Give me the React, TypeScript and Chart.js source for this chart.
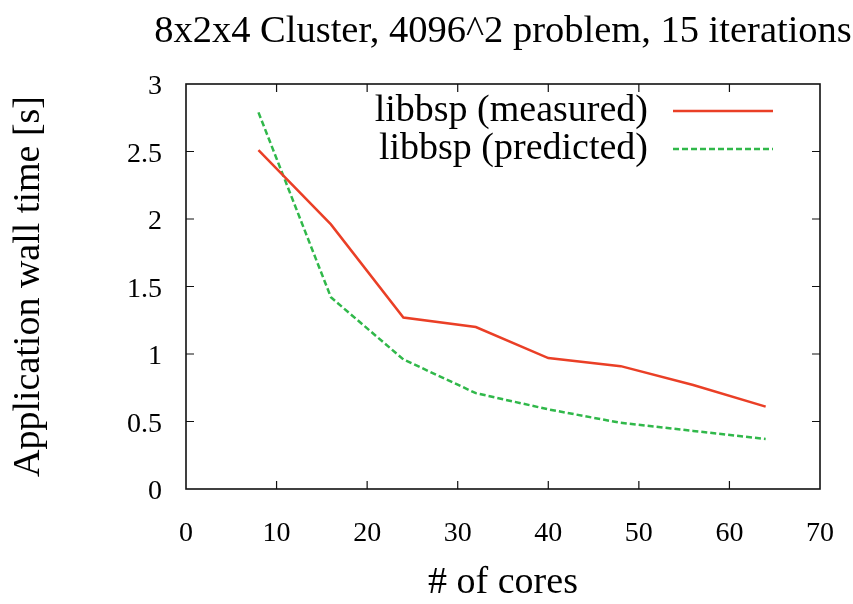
import React, { useEffect, useRef } from "react";
import { Chart, registerables } from "chart.js";

Chart.register(...registerables);

// Core counts on the x axis
const cores = [8, 16, 24, 32, 40, 48, 56, 64];
// Wall time in seconds
const measured = [2.51, 1.96, 1.27, 1.2, 0.97, 0.91, 0.77, 0.61];
const predicted = [2.79, 1.42, 0.96, 0.71, 0.59, 0.49, 0.43, 0.37];

const seriesLabels = ["libbsp (measured)", "libbsp (predicted)"];
const chartTitle = "8x2x4 Cluster, 4096^2 problem, 15 iterations";
const xTitle = "# of cores";
const yTitle = "Application wall time [s]";

const FONT = '"Liberation Serif", "DejaVu Serif", "Times New Roman", serif';
const RED = "#ea3f26";
const GREEN = "#30b84a";

// Gnuplot-style frame: full border with inward ticks on every side
const framePlugin = {
  id: "frame",
  beforeDatasetsDraw(chart: any) {
    const { ctx, chartArea: a, scales } = chart;
    const len = 8;
    ctx.save();
    ctx.strokeStyle = "#111";
    ctx.lineWidth = 1.6;
    ctx.strokeRect(a.left, a.top, a.right - a.left, a.bottom - a.top);
    ctx.lineWidth = 1.2;
    ctx.beginPath();
    scales.x.ticks.forEach((t: any) => {
      const px = scales.x.getPixelForValue(t.value);
      if (px <= a.left + 1 || px >= a.right - 1) return;
      ctx.moveTo(px, a.bottom);
      ctx.lineTo(px, a.bottom - len);
      ctx.moveTo(px, a.top);
      ctx.lineTo(px, a.top + len);
    });
    scales.y.ticks.forEach((t: any) => {
      const py = scales.y.getPixelForValue(t.value);
      if (py <= a.top + 1 || py >= a.bottom - 1) return;
      ctx.moveTo(a.left, py);
      ctx.lineTo(a.left + len, py);
      ctx.moveTo(a.right, py);
      ctx.lineTo(a.right - len, py);
    });
    ctx.stroke();
    ctx.restore();
  },
};

// Title above the plot and the key in the upper right corner
const textPlugin = {
  id: "texts",
  afterDraw(chart: any) {
    const { ctx, chartArea: a } = chart;
    ctx.save();
    ctx.fillStyle = "#000";
    ctx.font = `38.5px ${FONT}`;
    ctx.textAlign = "center";
    ctx.textBaseline = "middle";
    ctx.fillText(chartTitle, (a.left + a.right) / 2, 32);

    const rows = [
      { label: seriesLabels[0], color: RED, dash: [] as number[], y: a.top + 27 },
      { label: seriesLabels[1], color: GREEN, dash: [6, 3], y: a.top + 65 },
    ];
    ctx.font = `38px ${FONT}`;
    ctx.textAlign = "right";
    rows.forEach((r) => {
      ctx.fillStyle = "#000";
      ctx.fillText(r.label, a.right - 172, r.y);
      ctx.strokeStyle = r.color;
      ctx.lineWidth = 2.5;
      ctx.setLineDash(r.dash);
      ctx.beginPath();
      ctx.moveTo(a.right - 147, r.y);
      ctx.lineTo(a.right - 47, r.y);
      ctx.stroke();
    });
    ctx.restore();
  },
};

export default function App() {
  const ref = useRef<HTMLCanvasElement>(null);

  useEffect(() => {
    if (!ref.current) return;
    const chart = new Chart(ref.current, {
      type: "line",
      data: {
        datasets: [
          {
            label: seriesLabels[0],
            data: cores.map((c, i) => ({ x: c, y: measured[i] })),
            borderColor: RED,
            borderWidth: 2.5,
            pointRadius: 0,
            tension: 0,
            fill: false,
          },
          {
            label: seriesLabels[1],
            data: cores.map((c, i) => ({ x: c, y: predicted[i] })),
            borderColor: GREEN,
            borderWidth: 2.5,
            borderDash: [6, 3],
            pointRadius: 0,
            tension: 0,
            fill: false,
          },
        ],
      },
      options: {
        responsive: false,
        animation: false,
        layout: { padding: { top: 84, right: 33, left: 0, bottom: 0 } },
        plugins: {
          legend: { display: false },
          tooltip: { enabled: false },
          title: { display: false },
        },
        scales: {
          x: {
            type: "linear",
            min: 0,
            max: 70,
            grid: { display: false, drawTicks: false },
            border: { display: false },
            ticks: {
              stepSize: 10,
              padding: 28,
              color: "#000",
              font: { family: FONT, size: 28 },
            },
            title: {
              display: true,
              text: xTitle,
              color: "#000",
              font: { family: FONT, size: 38, lineHeight: 1.1 },
              padding: { top: 0, bottom: 0 },
            },
            afterFit: (s: any) => {
              s.height = 115;
              s.paddingLeft = 0;
              s.paddingRight = 0;
            },
          },
          y: {
            min: 0,
            max: 3,
            grid: { display: false, drawTicks: false },
            border: { display: false },
            ticks: {
              stepSize: 0.5,
              padding: 24,
              labelOffset: 3,
              color: "#000",
              font: { family: FONT, size: 28 },
              callback: (v: any) => `${Number(v)}`,
            },
            title: {
              display: true,
              text: yTitle,
              color: "#000",
              font: { family: FONT, size: 38 },
              padding: { top: 6, bottom: 0 },
            },
            afterFit: (s: any) => {
              s.width = 186;
              s.paddingTop = 0;
              s.paddingBottom = 0;
            },
          },
        },
      },
      plugins: [framePlugin, textPlugin],
    });
    return () => chart.destroy();
  }, []);

  return (
    <div style={{ position: "fixed", left: 0, top: 0, width: 853, height: 604, background: "#fff" }}>
      <canvas ref={ref} width={853} height={604} style={{ width: 853, height: 604 }} />
    </div>
  );
}
